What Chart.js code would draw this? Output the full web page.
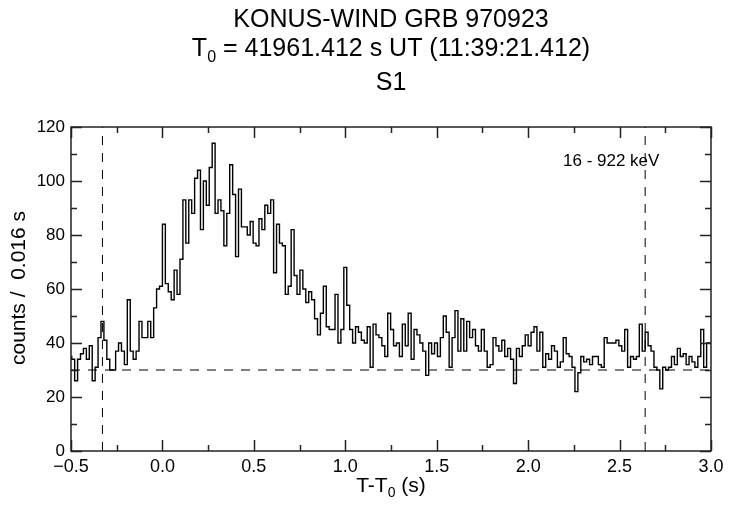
<!DOCTYPE html>
<html>
<head>
<meta charset="utf-8">
<script src="https://cdn.jsdelivr.net/npm/chart.js@4/dist/chart.umd.min.js"></script>
<style>
    body { margin: 0; background: #fff; }
    #wrap { width: 729px; height: 510px; }
</style>
</head>
<body>
<div id="wrap"><canvas id="lc" width="729" height="510"></canvas></div>
<script>
// light curve, counts per 0.016 s bin, first bin starts at T-T0 = -0.512 s
const binStart = -0.512;
const binWidth = 0.016;
const counts = [
    39, 35, 34, 26, 34, 36, 38, 34, 39, 26, 31, 42, 48, 41, 34, 30, 30, 37, 40, 37,
    32, 56, 37, 34, 37, 48, 42, 42, 48, 42, 53, 60, 61, 84, 62, 59, 56, 67, 58, 71,
    93, 77, 93, 88, 101, 104, 82, 100, 91, 105, 114, 88, 93, 89, 76, 88, 106, 95, 72, 97,
    83, 83, 80, 85, 77, 76, 86, 82, 91, 88, 93, 66, 84, 77, 76, 58, 61, 82, 65, 58,
    67, 60, 55, 59, 56, 49, 43, 51, 61, 46, 45, 45, 58, 40, 45, 68, 54, 45, 40, 46,
    44, 41, 40, 46, 31, 47, 43, 42, 39, 35, 51, 45, 39, 40, 35, 47, 39, 51, 34, 45,
    43, 40, 37, 28, 40, 36, 40, 35, 42, 50, 44, 31, 42, 52, 37, 49, 37, 48, 42, 45,
    39, 37, 45, 37, 31, 32, 42, 39, 37, 41, 35, 38, 34, 25, 38, 35, 39, 43, 39, 44,
    46, 37, 44, 31, 36, 34, 39, 37, 31, 33, 42, 36, 35, 31, 22, 29, 35, 33, 34, 32,
    35, 35, 32, 31, 42, 40, 40, 40, 41, 39, 37, 45, 31, 35, 34, 35, 47, 37, 44, 39,
    37, 31, 30, 23, 31, 30, 31, 35, 32, 38, 35, 36, 32, 35, 33, 31, 35, 45, 31, 40
];
const bgLevel = 30;
const intervalStart = -0.328;
const intervalEnd = 2.640;
const xRange = [-0.5, 3.0];
const yRange = [0, 120];

const FONT = '"Liberation Sans", Arial, sans-serif';

// stepped 'after': each point holds the value of the bin that starts there
const histPts = counts.map((c, i) => ({ x: binStart + i * binWidth, y: c }));
histPts.push({ x: binStart + counts.length * binWidth, y: counts[counts.length - 1] });

function fmtX(v) {
    if (Math.abs(v) < 1e-9) return '0.0';
    return (v < 0 ? '\u2212' : '') + Math.abs(v).toFixed(1);
}

const framePlugin = {
    id: 'frame',
    afterDraw(chart) {
        const ctx = chart.ctx;
        const a = chart.chartArea;
        const xs = chart.scales.x, ys = chart.scales.y;
        ctx.save();
        ctx.strokeStyle = '#222';
        ctx.lineWidth = 1.5;
        ctx.strokeRect(a.left, a.top, a.right - a.left, a.bottom - a.top);

        ctx.beginPath();
        for (let v = xRange[0]; v <= xRange[1] + 1e-9; v += 0.25) {
            const px = Math.round(xs.getPixelForValue(v)) + 0.5;
            const major = Math.abs(v * 2 - Math.round(v * 2)) < 1e-6;
            const len = major ? 11 : 6;
            ctx.moveTo(px, a.bottom); ctx.lineTo(px, a.bottom - len);
            ctx.moveTo(px, a.top); ctx.lineTo(px, a.top + len);
        }
        for (let v = yRange[0]; v <= yRange[1]; v += 10) {
            const py = Math.round(ys.getPixelForValue(v)) + 0.5;
            const len = v % 20 === 0 ? 11 : 6;
            ctx.moveTo(a.left, py); ctx.lineTo(a.left + len, py);
            ctx.moveTo(a.right, py); ctx.lineTo(a.right - len, py);
        }
        ctx.stroke();

        // titles
        const cx = (a.left + a.right) / 2;
        ctx.fillStyle = '#000';
        ctx.textBaseline = 'alphabetic';
        ctx.textAlign = 'center';
        ctx.font = '25px ' + FONT;
        ctx.fillText('KONUS-WIND GRB 970923', cx, 27);
        ctx.fillText('S1', cx, 90);

        drawSub(ctx, 'T', '0', ' = 41961.412 s UT (11:39:21.412)', cx, 56, 25, 16, 6);
        drawSub(ctx, 'T-T', '0', ' (s)', cx, 492, 21, 14, 5);

        ctx.textAlign = 'left';
        ctx.font = '17px ' + FONT;
        ctx.fillText('16 - 922 keV', 563, 166);

        ctx.save();
        ctx.translate(25, 288);
        ctx.rotate(-Math.PI / 2);
        ctx.textAlign = 'center';
        ctx.font = '21px ' + FONT;
        ctx.fillText('counts /  0.016 s', 0, 0);
        ctx.restore();
        ctx.restore();
    }
};

function drawSub(ctx, pre, sub, post, cx, base, big, small, drop) {
    ctx.font = big + 'px ' + FONT;
    const w1 = ctx.measureText(pre).width;
    const w3 = ctx.measureText(post).width;
    ctx.font = small + 'px ' + FONT;
    const w2 = ctx.measureText(sub).width;
    let x = cx - (w1 + w2 + w3) / 2;
    ctx.textAlign = 'left';
    ctx.font = big + 'px ' + FONT;
    ctx.fillText(pre, x, base);
    x += w1;
    ctx.font = small + 'px ' + FONT;
    ctx.fillText(sub, x, base + drop);
    x += w2;
    ctx.font = big + 'px ' + FONT;
    ctx.fillText(post, x, base);
}

const dashStyle = { borderColor: '#000', borderWidth: 1, borderDash: [9, 8], pointRadius: 0, fill: false };

new Chart(document.getElementById('lc'), {
    type: 'line',
    data: {
        datasets: [
            { data: histPts, stepped: 'after', borderColor: '#000', borderWidth: 1.4, pointRadius: 0, fill: false },
            Object.assign({ data: [{ x: xRange[0], y: bgLevel }, { x: xRange[1], y: bgLevel }] }, dashStyle),
            Object.assign({ data: [{ x: intervalStart, y: yRange[0] }, { x: intervalStart, y: yRange[1] }] }, dashStyle),
            Object.assign({ data: [{ x: intervalEnd, y: yRange[0] }, { x: intervalEnd, y: yRange[1] }] }, dashStyle)
        ]
    },
    options: {
        responsive: false,
        animation: false,
        devicePixelRatio: 1,
        layout: { padding: { left: 0, right: 18, top: 127, bottom: 0 } },
        plugins: { legend: { display: false }, tooltip: { enabled: false } },
        scales: {
            x: {
                type: 'linear', min: xRange[0], max: xRange[1],
                grid: { display: false, drawTicks: false }, border: { display: false },
                ticks: { stepSize: 0.5, autoSkip: false, maxRotation: 0, padding: 5, color: '#000',
                         font: { family: FONT, size: 18 }, callback: fmtX },
                afterFit: s => { s.height = 59; }
            },
            y: {
                min: yRange[0], max: yRange[1],
                grid: { display: false, drawTicks: false }, border: { display: false },
                ticks: { stepSize: 20, padding: 6, color: '#000', font: { family: FONT, size: 17 } },
                afterFit: s => { s.width = 71; }
            }
        }
    },
    plugins: [framePlugin]
});
</script>
</body>
</html>
